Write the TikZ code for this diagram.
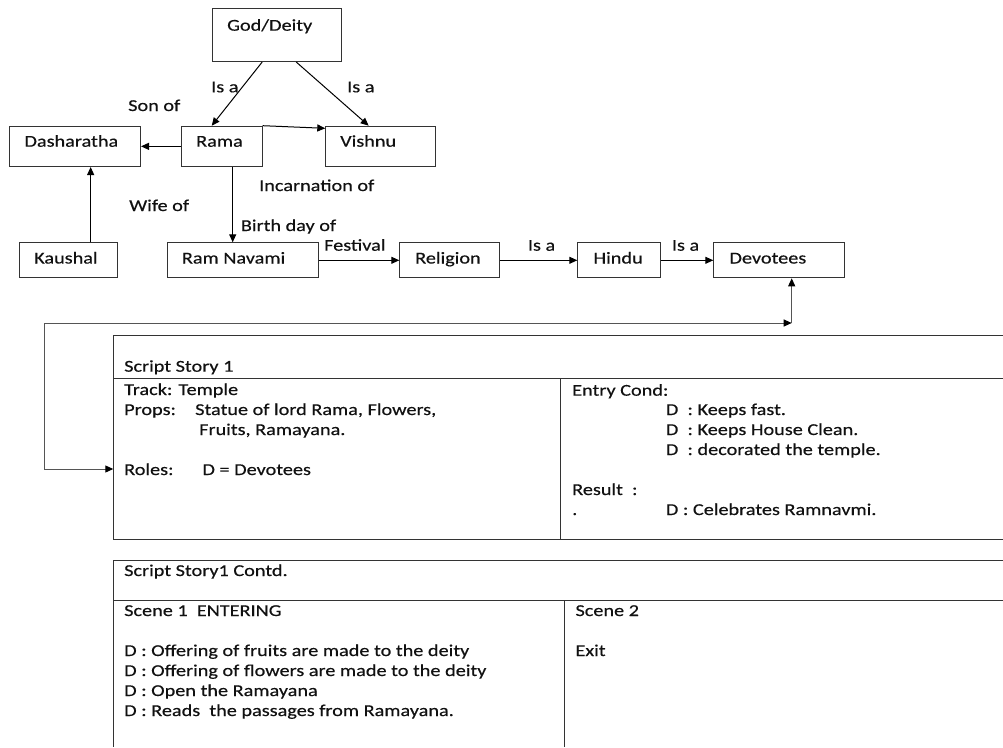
\documentclass[tikz,border=0pt]{standalone}
\usepackage{fontspec}
\newfontfamily\cf[FakeStretch=1.22,FakeBold=0.4]{Carlito}
\usetikzlibrary{arrows.meta}
\definecolor{ink}{HTML}{111111}
\definecolor{edge}{HTML}{333333}
\definecolor{fbline}{HTML}{555555}
\begin{document}
\begin{tikzpicture}[x=1pt,y=-1pt,
  every node/.style={font=\cf\fontsize{16.6}{20}\selectfont, text=ink},
  txt/.style={anchor=base west, inner sep=0pt},
  box/.style={draw=edge, line width=1pt, anchor=north west, inner sep=0pt},
  arr/.style={draw=black, line width=1pt, -{Triangle[length=8pt,width=7pt,color=black]}},
  tline/.style={draw=edge, line width=1pt}]
\path[use as bounding box] (0,0) rectangle (1003,747);

% boxes of the graph
\node[box, minimum width=129pt, minimum height=52.7pt] (god) at (211.7,8.3) {};
\node[box, minimum width=81pt, minimum height=40.3pt] (rama) at (180.7,125.7) {};
\node[box, minimum width=109.7pt, minimum height=40.3pt] (vishnu) at (325.3,125.7) {};
\node[box, minimum width=130.7pt, minimum height=40.3pt] (dash) at (9.3,125.7) {};
\node[box, minimum width=98.3pt, minimum height=35pt] (kaushal) at (19,242.3) {};
\node[box, minimum width=151pt, minimum height=35pt] (ramnav) at (166.7,242.3) {};
\node[box, minimum width=100pt, minimum height=35pt] (religion) at (399.3,242.3) {};
\node[box, minimum width=82.7pt, minimum height=35pt] (hindu) at (577.3,242.3) {};
\node[box, minimum width=131pt, minimum height=35pt] (devotees) at (713.3,242.3) {};

% box texts
\node[txt] (tgod) at (227,30.7) {God/Deity};
\node[txt] (trama) at (196,146.7) {Rama};
\node[txt] (tvishnu) at (340,146.7) {Vishnu};
\node[txt] (tdash) at (24.3,146.7) {Dasharatha};
\node[txt] (tkaushal) at (34,263.5) {Kaushal};
\node[txt] (tramnav) at (181.7,263.5) {Ram Navami};
\node[txt] (treligion) at (415,263.5) {Religion};
\node[txt] (thindu) at (593.3,263.5) {Hindu};
\node[txt] (tdevotees) at (729.3,263.5) {Devotees};

% edge labels
\node[txt] (lisa1) at (211,92.3) {Is a};
\node[txt] (lisa2) at (347,92.3) {Is a};
\node[txt] (lson) at (128,111) {Son of};
\node[txt] (linc) at (259,191) {Incarnation of};
\node[txt] (lwife) at (129,211) {Wife of};
\node[txt] (lbirth) at (240.7,231) {Birth day of};
\node[txt] (lfest) at (324,250.7) {Festival};
\node[txt] (lisa3) at (527.7,250.7) {Is a};
\node[txt] (lisa4) at (671.7,250.7) {Is a};

% connectors
\draw[arr] ([xshift=-14.5pt]god.south) -- ([xshift=31pt]rama.north west);
\draw[arr] ([xshift=19.5pt]god.south) -- ([xshift=-12pt]vishnu.north);
\draw[arr] (rama.north east) -- ([yshift=-2.6pt]vishnu.north west);
\draw[arr] (rama.west) -- (dash.east);
\draw[arr] ([xshift=22pt]kaushal.north) -- ([xshift=22pt]kaushal.north |- dash.south);
\draw[arr] ([xshift=11pt]rama.south) -- ([xshift=11pt]rama.south |- ramnav.north);
\draw[arr] (ramnav.east) -- (religion.west);
\draw[arr] (religion.east) -- (hindu.west);
\draw[arr] (hindu.east) -- (devotees.west);

% script story 1 table
\coordinate (s1tl) at (113.3,335);
\coordinate (s1tr) at (1003,335);
\coordinate (s1hl) at (113.3,378.7);
\coordinate (s1hr) at (1003,378.7);
\coordinate (s1bl) at (113.3,539);
\coordinate (s1br) at (1003,539);
\coordinate (s1dt) at (560.7,378.7);
\coordinate (s1db) at (560.7,539);
\coordinate (rolesin) at (113.3,469);
\draw[tline] (s1tr) -- (s1tl) -- (s1bl) -- (s1br);
\draw[tline] (s1hl) -- (s1hr);
\draw[tline] (s1dt) -- (s1db);

% feedback connector
\coordinate (fbl) at (44,323);
\coordinate (fbr) at (791.7,323);
\draw[arr, draw=fbline] (fbl) -- (fbr);
\draw[arr, draw=fbline] (fbr) -- (fbr |- devotees.south);
\draw[arr, draw=fbline] (fbl) |- (rolesin);

\node[txt] (s1title) at (124,371.7) {Script Story 1};
\node[txt] (s1track) at (124,395) {Track: Temple};
\node[txt] (s1props) at (124,415) {Props:};
\node[txt] (s1propsa) at (195,415) {Statue of lord Rama, Flowers,};
\node[txt] (s1propsb) at (199,435) {Fruits, Ramayana.};
\node[txt] (s1roles) at (124,475) {Roles:};
\node[txt] (s1rolesa) at (202.3,475) {D = Devotees};
\node[txt] (s1entry) at (572,395.7) {Entry Cond:};
\node[txt] (s1e1) at (665.7,415) {D\ \ : Keeps fast.};
\node[txt] (s1e2) at (665.7,435) {D\ \ : Keeps House Clean.};
\node[txt] (s1e3) at (665.7,455) {D\ \ : decorated the temple.};
\node[txt] (s1res) at (572,495) {Result\ \ :};
\node[txt] (s1dot) at (572,515) {.};
\node[txt] (s1r1) at (665.7,515) {D : Celebrates Ramnavmi.};

% script story 1 contd table
\coordinate (s2tl) at (113.3,560);
\coordinate (s2tr) at (1003,560);
\coordinate (s2hl) at (113.3,600.3);
\coordinate (s2hr) at (1003,600.3);
\coordinate (s2bl) at (113.3,747);
\coordinate (s2dt) at (564.3,600.3);
\coordinate (s2db) at (564.3,747);
\draw[tline] (s2tr) -- (s2tl) -- (s2bl);
\draw[tline] (s2hl) -- (s2hr);
\draw[tline] (s2dt) -- (s2db);

\node[txt] (s2title) at (124,576) {Script Story1 Contd.};
\node[txt] (s2scene1) at (124,616) {Scene 1\ \ ENTERING};
\node[txt] (s2d1) at (124,656) {D : Offering of fruits are made to the deity};
\node[txt] (s2d2) at (124,676) {D : Offering of flowers are made to the deity};
\node[txt] (s2d3) at (124,696) {D : Open the Ramayana};
\node[txt] (s2d4) at (124,716) {D : Reads\ \ the passages from Ramayana.};
\node[txt] (s2scene2) at (575.3,616) {Scene 2};
\node[txt] (s2exit) at (575.3,656) {Exit};
\end{tikzpicture}
\end{document}
